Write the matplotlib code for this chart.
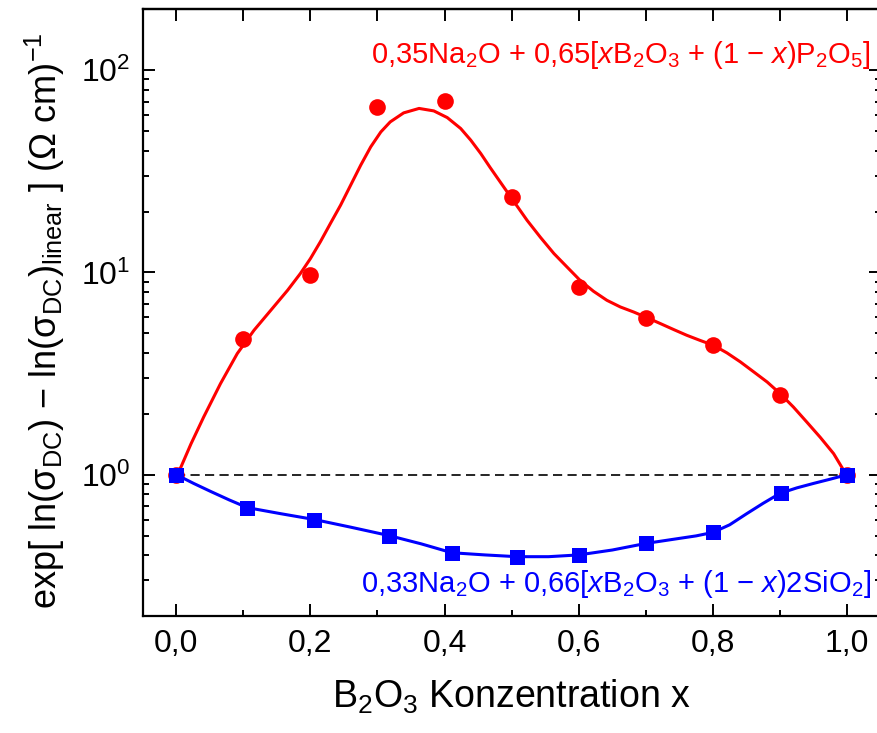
import numpy as np
import matplotlib
matplotlib.use("Agg")
import matplotlib.pyplot as plt
from matplotlib.ticker import LogLocator, LogFormatterMathtext, NullFormatter

plt.rcParams["font.family"] = ["Liberation Sans", "DejaVu Sans"]
plt.rcParams["mathtext.fontset"] = "custom"
plt.rcParams["mathtext.rm"] = "Liberation Sans"
plt.rcParams["mathtext.it"] = "Liberation Sans:italic"
plt.rcParams["mathtext.bf"] = "Liberation Sans:bold"

# measured points
x_p = [0.0, 0.1, 0.2, 0.3, 0.4, 0.5, 0.6, 0.7, 0.8, 0.9, 1.0]
y_p = [1.0, 4.71, 9.7, 65.4, 70.5, 23.6, 8.47, 5.95, 4.36, 2.47, 1.0]

x_si = [0.0, 0.106, 0.206, 0.317, 0.411, 0.508, 0.600, 0.700, 0.800, 0.901, 1.0]
y_si = [1.0, 0.687, 0.600, 0.500, 0.411, 0.393, 0.401, 0.457, 0.518, 0.808, 1.0]

# smooth guide curves
curve_p_x = [0.0, 0.007, 0.022, 0.041, 0.066, 0.091, 0.116, 0.141, 0.166, 0.185,
             0.200, 0.215, 0.230, 0.245, 0.260, 0.275, 0.290, 0.305, 0.319, 0.339,
             0.362, 0.384, 0.404, 0.424, 0.439, 0.454, 0.468, 0.483, 0.503, 0.523,
             0.543, 0.563, 0.583, 0.602, 0.622, 0.642, 0.662, 0.682, 0.702, 0.722,
             0.742, 0.761, 0.781, 0.801, 0.821, 0.841, 0.861, 0.881, 0.900, 0.920,
             0.940, 0.960, 0.980, 0.995, 1.0]
curve_p_y = [1.0, 1.09, 1.42, 1.93, 2.82, 3.97, 5.18, 6.50, 8.16, 9.87,
             11.7, 14.2, 17.5, 21.5, 27.0, 33.9, 41.8, 49.5, 55.5, 61.5,
             64.7, 62.9, 58.3, 51.5, 45.1, 38.7, 33.0, 28.0, 22.5, 18.1,
             14.9, 12.4, 10.6, 9.14, 8.07, 7.28, 6.75, 6.37, 5.97, 5.58,
             5.21, 4.89, 4.61, 4.36, 4.00, 3.61, 3.22, 2.87, 2.52, 2.16,
             1.82, 1.53, 1.27, 1.05, 1.0]

curve_si_x = [0.0, 0.026, 0.052, 0.079, 0.106, 0.156, 0.206, 0.26, 0.317, 0.365,
              0.411, 0.46, 0.508, 0.555, 0.600, 0.65, 0.70, 0.75, 0.775, 0.80,
              0.825, 0.85, 0.875, 0.90, 0.925, 0.95, 0.975, 1.0]
curve_si_y = [1.0, 0.905, 0.824, 0.750, 0.687, 0.641, 0.600, 0.55, 0.500, 0.455,
              0.411, 0.401, 0.393, 0.393, 0.401, 0.424, 0.457, 0.484, 0.498, 0.518,
              0.565, 0.640, 0.722, 0.808, 0.860, 0.905, 0.950, 1.0]

x_major = [0.0, 0.2, 0.4, 0.6, 0.8, 1.0]
x_labels = ["0,0", "0,2", "0,4", "0,6", "0,8", "1,0"]
x_minor = [0.1, 0.3, 0.5, 0.7, 0.9]
top_ticks = [0.0, 0.1, 0.2, 0.3, 0.4, 0.5, 0.6, 0.7, 0.8, 0.9, 1.0]

label_p = "0,35Na$_2$O + 0,65[$x$B$_2$O$_3$ + (1 \u2212 $x$)P$_2$O$_5$]"
label_si = "0,33Na$_2$O + 0,66[$x$B$_2$O$_3$ + (1 \u2212 $x$)2SiO$_2$]"

fig = plt.figure(figsize=(8.77, 7.33), dpi=100)
ax = fig.add_axes([0.1627, 0.1596, 0.8414, 0.8277])

ax.plot([0, 1], [1, 1], color="black", lw=1.2, dashes=(5.5, 3.2), zorder=1)

ax.plot(curve_p_x, curve_p_y, color="red", lw=2.2, zorder=2)
ax.plot(x_p, y_p, "o", color="red", ms=12, mew=0, zorder=3)

ax.plot(curve_si_x, curve_si_y, color="blue", lw=2.2, zorder=4)
ax.plot(x_si, y_si, "s", color="blue", ms=10.8, mew=0, zorder=5)

ax.set_yscale("log")
ax.set_xlim(-0.05, 1.05)
ax.set_ylim(0.2, 200)

ax.set_xticks(x_major)
ax.set_xticklabels(x_labels)
ax.set_xticks(x_minor, minor=True)
ax.yaxis.set_major_locator(LogLocator(base=10))
ax.yaxis.set_major_formatter(LogFormatterMathtext())
ax.yaxis.set_minor_locator(LogLocator(base=10, subs=np.arange(2, 10)))
ax.yaxis.set_minor_formatter(NullFormatter())

ax.tick_params(axis="x", which="both", direction="in", top=False, bottom=True)
ax.tick_params(axis="y", which="both", direction="in", left=True, right=True)
ax.tick_params(which="major", length=8.6, width=1.4, labelsize=23, pad=9)
ax.tick_params(which="minor", length=4.6, width=1.4)

secx = ax.secondary_xaxis("top")
secx.set_xticks(top_ticks)
secx.tick_params(direction="in", length=8.6, width=1.4, labeltop=False)
secx.spines["top"].set_linewidth(1.6)

for s in ax.spines.values():
    s.set_linewidth(1.6)

ax.set_xlabel("B$_2$O$_3$ Konzentration x", fontsize=27, labelpad=14)
ax.set_ylabel("exp[ ln(\u03c3$_{\\mathrm{DC}}$) \u2212 ln(\u03c3$_{\\mathrm{DC}}$)$_{\\mathrm{linear}}$ ] (\u03a9 cm)$^{-1}$",
              fontsize=26, labelpad=10)
ax.yaxis.label.set_y(0.486)

ax.text(0.9866, 0.9115, label_p, transform=ax.transAxes, color="red",
        fontsize=21, ha="right", va="baseline")
ax.text(0.9866, 0.0396, label_si, transform=ax.transAxes, color="blue",
        fontsize=21, ha="right", va="baseline")

fig.savefig("out.png", dpi=100)
